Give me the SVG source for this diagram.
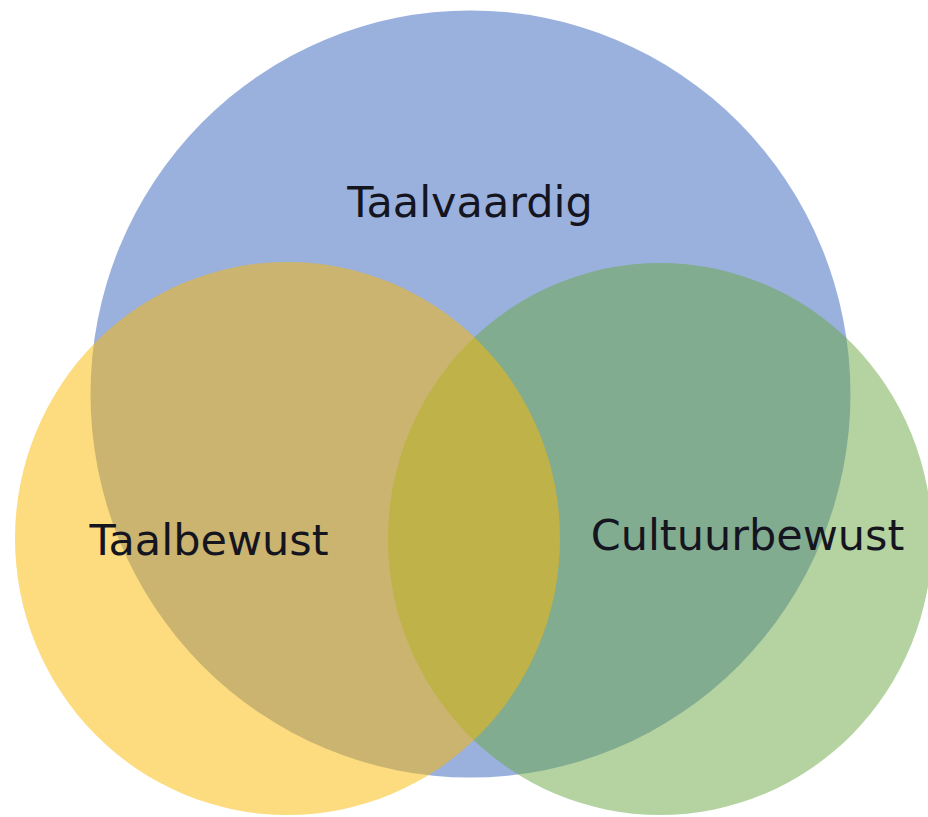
<svg xmlns="http://www.w3.org/2000/svg" width="928" height="817" viewBox="0 0 928 817">
  <style>
    .lbl { font-family: "DejaVu Sans", Verdana, sans-serif; font-size: 43px; fill: #15151f; text-anchor: middle; }
    .c { fill-opacity: 0.5; stroke: none; }
  </style>
  <rect width="928" height="817" fill="#ffffff"/>
  <g id="taalvaardig">
    <ellipse class="c" cx="470.5" cy="394" rx="380" ry="383.5" fill="#3E6AC0" style="fill-opacity:0.52"/>
  </g>
  <g id="cultuurbewust">
    <ellipse class="c" cx="660" cy="539" rx="272" ry="276" fill="#6AA742"/>
  </g>
  <g id="taalbewust">
    <ellipse class="c" cx="287.5" cy="538.5" rx="272.5" ry="276.5" fill="#FCB800"/>
  </g>
  <g id="connectors"></g>
  <g id="labels">
    <text class="lbl" x="470" y="217">Taalvaardig</text>
    <text class="lbl" x="209" y="555">Taalbewust</text>
    <text class="lbl" x="747.5" y="550">Cultuurbewust</text>
  </g>
</svg>
